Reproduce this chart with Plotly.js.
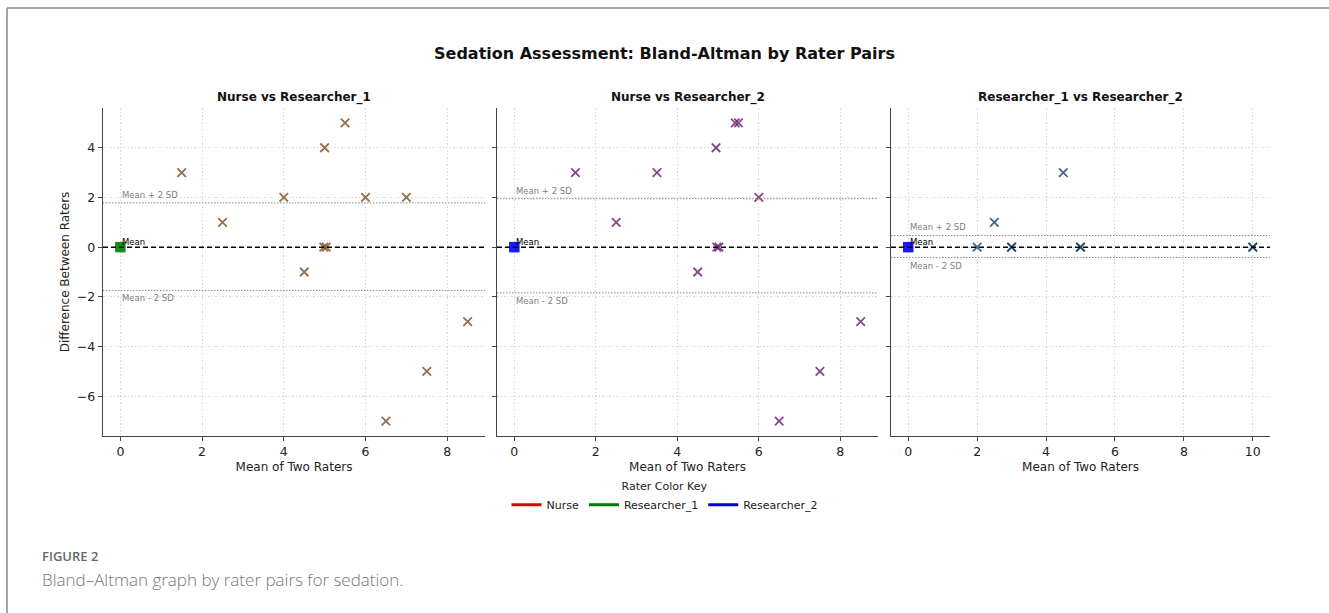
<!DOCTYPE html>
<html>
<head>
<meta charset="utf-8">
<script src="https://cdn.plot.ly/plotly-3.0.1.min.js"></script>
<style>html,body{margin:0;padding:0;background:#fff;}#chart{width:1329px;height:613px;}</style>
</head>
<body>
<div id="chart"></div>
<script>
// ---------- data ----------
const mainTitle = 'Sedation Assessment: Bland-Altman by Rater Pairs';
const panelTitles = ['Nurse vs Researcher_1', 'Nurse vs Researcher_2', 'Researcher_1 vs Researcher_2'];
const xLabel = 'Mean of Two Raters';
const yLabel = 'Difference Between Raters';

const p1Mean = [1.5, 2.5, 4, 5, 5.5, 6, 7, 4.98, 5.04, 4.5, 8.5, 7.5, 6.5];
const p1Diff = [3, 1, 2, 4, 5, 2, 2, 0, 0, -1, -3, -5, -7];
const p2Mean = [1.5, 2.5, 3.5, 4.95, 5.42, 5.5, 6, 4.97, 5.02, 4.5, 8.5, 7.5, 6.5];
const p2Diff = [3, 1, 3, 4, 5, 5, 2, 0, 0, -1, -3, -5, -7];
const p3Mean = [2, 2.5, 4.5, 3, 3, 5, 5, 10, 10];
const p3Diff = [0, 1, 3, 0, 0, 0, 0, 0, 0];
const zeroMean = [0];
const zeroDiff = [0];

const meanDiff = [0, 0, 0];
const upperLoA = [1.78, 1.95, 0.47];
const lowerLoA = [-1.74, -1.84, -0.42];

const raters = ['Nurse', 'Researcher_1', 'Researcher_2'];
const raterColors = ['#e00000', '#007a00', '#0000e0'];
const pairColors = ['#7a4a20', '#6a1a68', '#1c3f62'];
const zeroColors = ['#008000', '#0000ff', '#0000ff'];
const legendTitle = 'Rater Color Key';
const captionHead = 'FIGURE 2';
const captionText = 'Bland–Altman graph by rater pairs for sedation.';

// ---------- layout helpers ----------
const W = 1329, H = 613;
const px = v => v / W;
const py = v => 1 - v / H;
const xDomains = [[px(103), px(485)], [px(497), px(878)], [px(891), px(1270)]];
const yDomain = [py(436), py(108)];
const xRanges = [[-0.425, 8.925], [-0.425, 8.925], [-0.5, 10.5]];
const font = 'DejaVu Sans, sans-serif';

const pairX = [p1Mean, p2Mean, p3Mean];
const pairY = [p1Diff, p2Diff, p3Diff];

const traces = [];
const shapes = [];
const annotations = [];

for (let i = 0; i < 3; i++) {
  const xa = i === 0 ? 'x' : 'x' + (i + 1);
  const ya = i === 0 ? 'y' : 'y' + (i + 1);
  traces.push({
    type: 'scatter', mode: 'markers', x: pairX[i], y: pairY[i], xaxis: xa, yaxis: ya,
    showlegend: false, hoverinfo: 'x+y',
    marker: {symbol: 'x-thin-open', size: 8.5, opacity: 0.8, line: {color: pairColors[i], width: 1.8}, color: pairColors[i]}
  });
  traces.push({
    type: 'scatter', mode: 'markers', x: zeroMean, y: zeroDiff, xaxis: xa, yaxis: ya,
    showlegend: false, hoverinfo: 'x+y',
    marker: {symbol: 'square', size: 10.5, opacity: 0.9, color: zeroColors[i], line: {width: 0}}
  });
  const xd = xa + ' domain';
  shapes.push({type: 'line', xref: xd, yref: ya, x0: 0, x1: 1, y0: meanDiff[i], y1: meanDiff[i],
    line: {color: '#000', width: 1.5, dash: '5px,3px'}});
  shapes.push({type: 'line', xref: xd, yref: ya, x0: 0, x1: 1, y0: upperLoA[i], y1: upperLoA[i],
    line: {color: '#888', width: 1, dash: '1.5px,1.5px'}});
  shapes.push({type: 'line', xref: xd, yref: ya, x0: 0, x1: 1, y0: lowerLoA[i], y1: lowerLoA[i],
    line: {color: '#888', width: 1, dash: '1.5px,1.5px'}});
  annotations.push({xref: xa, yref: ya, x: 0, y: upperLoA[i], xanchor: 'left', yanchor: 'bottom', yshift: 1,
    text: 'Mean + 2 SD', showarrow: false, font: {family: font, size: 8.5, color: '#808080'}});
  annotations.push({xref: xa, yref: ya, x: 0, y: lowerLoA[i], xanchor: 'left', yanchor: 'top', yshift: -1,
    text: 'Mean - 2 SD', showarrow: false, font: {family: font, size: 8.5, color: '#808080'}});
  annotations.push({xref: xa, yref: ya, x: 0, y: meanDiff[i], xanchor: 'left', yanchor: 'bottom', yshift: -2,
    text: 'Mean', showarrow: false, font: {family: font, size: 8.5, color: '#000'}});
  annotations.push({xref: 'paper', yref: 'paper', x: (xDomains[i][0] + xDomains[i][1]) / 2, y: py(97),
    xanchor: 'center', yanchor: 'middle', text: '<b>' + panelTitles[i] + '</b>', showarrow: false,
    font: {family: font, size: 12, color: '#111'}});
}

// legend entries
for (let k = 0; k < raters.length; k++) {
  traces.push({type: 'scatter', mode: 'lines', x: [null], y: [null], name: raters[k],
    line: {color: raterColors[k], width: 3}, showlegend: true, hoverinfo: 'skip'});
}

// caption
annotations.push({xref: 'paper', yref: 'paper', x: px(40), y: py(556), xanchor: 'left', yanchor: 'middle',
  text: captionHead, showarrow: false, font: {family: 'Open Sans, sans-serif', size: 13, color: '#666', weight: 600}});
annotations.push({xref: 'paper', yref: 'paper', x: px(40), y: py(579), xanchor: 'left', yanchor: 'middle',
  text: captionText, showarrow: false, font: {family: 'Open Sans, sans-serif', size: 17, color: '#777', weight: 300}});

// frame
shapes.push({type: 'line', xref: 'paper', yref: 'paper', x0: px(7), x1: 1, y0: py(8), y1: py(8), line: {color: '#888', width: 1.5}});
shapes.push({type: 'line', xref: 'paper', yref: 'paper', x0: px(7), x1: px(7), y0: py(8), y1: 0, line: {color: '#888', width: 1.5}});

const axBase = {
  showline: true, linecolor: '#444', linewidth: 1.3, mirror: false,
  ticks: 'outside', ticklen: 4, tickcolor: '#444', tickwidth: 1,
  showgrid: true, gridcolor: '#d9d9d9', griddash: '1.5px,2px', gridwidth: 1,
  zeroline: false, tickfont: {family: font, size: 12.5, color: '#222'}
};

const layout = {
  width: W, height: H, autosize: false,
  margin: {l: 0, r: 0, t: 0, b: 0, pad: 0},
  paper_bgcolor: '#fff', plot_bgcolor: '#fff',
  title: {text: '<b>' + mainTitle + '</b>', x: 0.5, xanchor: 'center', y: py(53), yanchor: 'middle', yref: 'paper',
    font: {family: font, size: 16, color: '#111'}},
  showlegend: true,
  legend: {orientation: 'h', x: 0.5, xanchor: 'center', y: py(476), yanchor: 'top',
    title: {text: legendTitle, side: 'top center', font: {family: font, size: 11, color: '#222'}},
    font: {family: font, size: 11, color: '#222'}, bgcolor: 'rgba(0,0,0,0)', itemwidth: 30, tracegroupgap: 0},
  shapes: shapes,
  annotations: annotations
};

for (let i = 0; i < 3; i++) {
  const sx = i === 0 ? '' : String(i + 1);
  layout['xaxis' + sx] = Object.assign({}, axBase, {
    domain: xDomains[i], range: xRanges[i], dtick: 2, anchor: 'y' + sx,
    title: {text: xLabel, font: {family: font, size: 12, color: '#222'}, standoff: 4}
  });
  layout['yaxis' + sx] = Object.assign({}, axBase, {
    domain: yDomain, range: [-7.6, 5.6], dtick: 2, anchor: 'x' + sx,
    showticklabels: i === 0,
    title: i === 0 ? {text: yLabel, font: {family: font, size: 12, color: '#222'}} : {text: ''}
  });
}

Plotly.newPlot('chart', traces, layout, {displayModeBar: false, staticPlot: true});
</script>
</body>
</html>
